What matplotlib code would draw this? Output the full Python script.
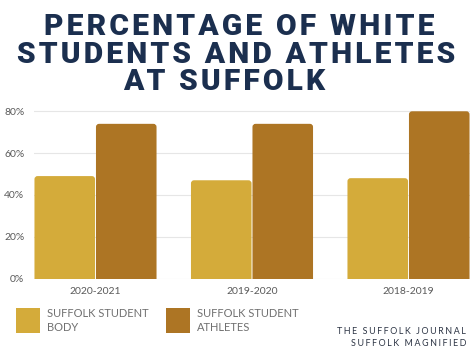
import matplotlib
matplotlib.use("Agg")
import matplotlib.pyplot as plt
from matplotlib.patches import FancyBboxPatch, Rectangle

# data
years = ["2020-2021", "2019-2020", "2018-2019"]
student_body = [49, 47, 48]
student_athletes = [74, 74, 80]
yticks = [0, 20, 40, 60, 80]

gold = "#D4AB3A"
bronze = "#AD7524"
navy = "#1B2F4F"
grey = "#5a5a5a"

def spaced(s, sp="\u200a"):
    return sp.join(s)

fig = plt.figure(figsize=(4.75, 3.56), dpi=100)
ax = fig.add_axes([34/475, 1-278.5/356, (470-34)/475, (278.5-109.2)/356])

w = 0.393
x = list(range(len(years)))
b1 = ax.bar([i - w/2 for i in x], student_body, width=w, color=gold)
b2 = ax.bar([i + w/2 for i in x], student_athletes, width=w, color=bronze)

# swap plain bars for slightly rounded ones
for bars in (b1, b2):
    for p in bars:
        p.set_visible(False)
        bx, by = p.get_x(), p.get_y()
        bw, bh = p.get_width(), p.get_height()
        fb = FancyBboxPatch((bx + 0.003, by - 3), bw - 0.006, bh + 3,
                            boxstyle="round,pad=0,rounding_size=0.02",
                            mutation_aspect=74, fc=p.get_facecolor(),
                            ec="none", zorder=3)
        ax.add_patch(fb)

ax.set_xlim(-w, len(years) - 1 + w)
ax.set_ylim(0, 81)
ax.set_yticks(yticks)
ax.set_yticklabels([f"{t}%" for t in yticks])
ax.set_xticks(x)
ax.set_xticklabels(years)
ax.yaxis.grid(True, color="#e6e6e6", lw=0.8, zorder=0)
ax.set_axisbelow(True)
for s in ax.spines.values():
    s.set_visible(False)
ax.tick_params(length=0, labelsize=7.5, labelcolor=grey, pad=6)
ax.tick_params(axis="y", pad=7)
for lab in ax.get_xticklabels() + ax.get_yticklabels():
    lab.set_family("Lato")

# title
title_lines = ["PERCENTAGE OF WHITE", "STUDENTS AND ATHLETES", "AT SUFFOLK"]
title_y = [27, 55, 82]
title_x = [239, 236, 224]
for t, yy, xx in zip(title_lines, title_y, title_x):
    fig.text(xx/475, 1-yy/356, spaced(t, "\u200a"), ha="center", va="center",
             fontsize=21.6, fontweight="black", color=navy,
             family=["Roboto", "DejaVu Sans"])

# legend
legend_items = [("SUFFOLK STUDENT\nBODY", gold, 16), ("SUFFOLK STUDENT\nATHLETES", bronze, 166)]
for label, c, lx in legend_items:
    fig.patches.append(Rectangle((lx/475, 1-333/356), 24/475, 25/356,
                                 transform=fig.transFigure, fc=c, ec="none"))
    fig.text((lx+31)/475, 1-320.5/356, label, ha="left", va="center",
             fontsize=8, color="#707070",
             family="Lato", linespacing=1.35)

# credit
for txt, yy in [("THE SUFFOLK JOURNAL", 331), ("SUFFOLK MAGNIFIED", 344)]:
    fig.text(466/475, 1-yy/356, spaced(txt, "\u2009\u200a"), ha="right",
             va="center", fontsize=6.4, color="#2c3444",
             family=["Lato", "DejaVu Sans"])

fig.savefig("out.png", dpi=100)
